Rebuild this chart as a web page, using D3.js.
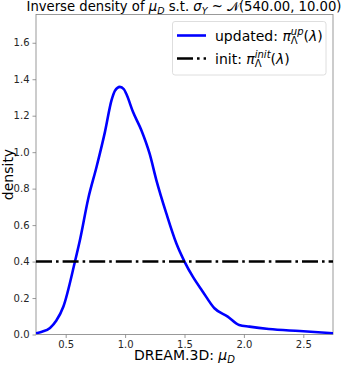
<!DOCTYPE html>
<html>
<head>
<meta charset="utf-8">
<script src="https://cdn.jsdelivr.net/npm/d3@7"></script>
<style>
  body { margin: 0; background: #fff; }
  svg { display: block; font-family: "DejaVu Sans", sans-serif; }
</style>
</head>
<body>
<svg id="chart" width="346" height="365"></svg>
<script>
// curve
var muD = [0.25, 0.30, 0.368, 0.42, 0.48, 0.578, 0.62, 0.69, 0.76, 0.83, 0.886, 0.914, 0.956, 0.99, 1.01,
           1.067, 1.137, 1.207, 1.263, 1.347, 1.431, 1.5, 1.57, 1.654, 1.752, 1.864, 1.96, 2.046, 2.21, 2.47, 2.75];
var densUp = [0.007, 0.015, 0.036, 0.075, 0.152, 0.4, 0.518, 0.746, 0.92, 1.11, 1.285, 1.336, 1.358, 1.345, 1.32,
              1.22, 1.12, 0.99, 0.847, 0.664, 0.50, 0.4, 0.317, 0.235, 0.144, 0.098, 0.052, 0.043, 0.03, 0.019, 0.007];
var initDensity = 0.4;
var xTicks = [0.5, 1.0, 1.5, 2.0, 2.5];
var yTicks = [0.0, 0.2, 0.4, 0.6, 0.8, 1.0, 1.2, 1.4, 1.6];

(function() {
  var svg = d3.select('#chart');
  var m = { left: 36, right: 333, top: 14.5, bottom: 334.5 };

  var x = d3.scaleLinear().domain([0.25, 2.75]).range([m.left, m.right]);
  var y = d3.scaleLinear().domain([0, 1.755]).range([m.bottom, m.top]);

  var grey = '#808080';

  // axes
  var xAxis = svg.append('g').attr('transform', 'translate(0,' + m.bottom + ')')
    .call(d3.axisBottom(x).tickValues(xTicks).tickFormat(d3.format('.1f')).tickSize(3.5).tickPadding(3));
  var yAxis = svg.append('g').attr('transform', 'translate(' + m.left + ',0)')
    .call(d3.axisLeft(y).tickValues(yTicks).tickFormat(d3.format('.1f')).tickSize(3.5).tickPadding(3));
  [xAxis, yAxis].forEach(function(g) {
    g.select('.domain').remove();
    g.selectAll('line').attr('stroke', grey).attr('stroke-width', 0.8);
    g.selectAll('text').attr('font-size', 10).attr('fill', '#262626')
      .attr('font-family', '"DejaVu Sans", sans-serif');
  });

  svg.append('rect').attr('x', m.left).attr('y', m.top)
    .attr('width', m.right - m.left).attr('height', m.bottom - m.top)
    .attr('fill', 'none').attr('stroke', grey).attr('stroke-width', 0.8);

  // clip for the lines
  svg.append('clipPath').attr('id', 'clip').append('rect')
    .attr('x', m.left).attr('y', m.top).attr('width', m.right - m.left).attr('height', m.bottom - m.top);

  var pts = muD.map(function(d, i) { return [d, densUp[i]]; });
  var line = d3.line().x(function(d) { return x(d[0]); }).y(function(d) { return y(d[1]); })
    .curve(d3.curveMonotoneX);

  svg.append('path').datum(pts).attr('d', line).attr('clip-path', 'url(#clip)')
    .attr('fill', 'none').attr('stroke', '#0000ff').attr('stroke-width', 2.6);

  svg.append('line').attr('clip-path', 'url(#clip)')
    .attr('x1', x(0.25)).attr('x2', x(2.75)).attr('y1', y(initDensity)).attr('y2', y(initDensity))
    .attr('stroke', '#000').attr('stroke-width', 2.6).attr('stroke-dasharray', '16,4,2.6,4');

  // math-ish text: plain strings or {t, it, sub, sup}; offsets carried to the next piece
  function rich(sel, parts, fs) {
    var dx = 0, dy = 0;
    function add(txt, opt) {
      var s = sel.append('tspan').text(txt);
      if (dx) s.attr('dx', dx);
      if (dy) s.attr('dy', dy);
      dx = 0; dy = 0;
      if (opt && opt.it) s.attr('font-style', 'italic');
      if (opt && opt.fs) s.attr('font-size', opt.fs);
      return s;
    }
    parts.forEach(function(p) {
      if (typeof p === 'string') { add(p); return; }
      add(p.t, { it: p.it });
      if (p.sub && p.sup) {
        dy = -5.5;
        var wSup = add(p.sup, { it: true, fs: fs }).node().getComputedTextLength();
        dx = -wSup; dy = 9;
        var wSub = add(p.sub, { fs: fs }).node().getComputedTextLength();
        dx = Math.max(0, wSup - wSub); dy = -3.5;
      } else if (p.sub) {
        dy = 3;
        add(p.sub, { it: true, fs: fs });
        dy = -3;
      }
    });
  }

  // title
  var title = svg.append('text').attr('x', 184).attr('y', 11).attr('text-anchor', 'middle')
    .attr('font-size', 13.2).attr('fill', '#000');
  rich(title, ['Inverse density of ', {t: '\u03bc', it: true, sub: 'D'}, ' s.t. ',
    {t: '\u03c3', it: true, sub: 'Y'}, ' ~ ', {t: '\ud835\udca9'}, '(540.00, 10.00)'], 9.5);

  // axis labels
  var xl = svg.append('text').attr('x', 184.5).attr('y', 360).attr('text-anchor', 'middle')
    .attr('font-size', 14).attr('fill', '#000');
  rich(xl, ['DREAM.3D: ', {t: '\u03bc', it: true, sub: 'D'}], 10);

  svg.append('text').attr('transform', 'translate(13,' + ((m.top + m.bottom) / 2) + ') rotate(-90)')
    .attr('text-anchor', 'middle').attr('font-size', 14).attr('fill', '#000').text('density');

  // legend
  var lg = svg.append('g');
  lg.append('rect').attr('x', 172.5).attr('y', 21.5).attr('width', 153.5).attr('height', 53.5)
    .attr('rx', 2.5).attr('fill', '#fff').attr('fill-opacity', 0.8).attr('stroke', '#d6d6d6').attr('stroke-width', 0.8);

  lg.append('line').attr('x1', 177).attr('x2', 206).attr('y1', 35.5).attr('y2', 35.5)
    .attr('stroke', '#0000ff').attr('stroke-width', 2.6);
  lg.append('line').attr('x1', 177).attr('x2', 206).attr('y1', 58.5).attr('y2', 58.5)
    .attr('stroke', '#000').attr('stroke-width', 2.6).attr('stroke-dasharray', '16,4,2.6,4');

  var t1 = lg.append('text').attr('x', 215).attr('y', 40.5).attr('font-size', 14).attr('fill', '#000');
  rich(t1, ['updated: ', {t: '\u03c0', it: true, sub: '\u039b', sup: 'up'}, '(', {t: '\u03bb', it: true}, ')'], 10);
  var t2 = lg.append('text').attr('x', 215).attr('y', 63.5).attr('font-size', 14).attr('fill', '#000');
  rich(t2, ['init: ', {t: '\u03c0', it: true, sub: '\u039b', sup: 'init'}, '(', {t: '\u03bb', it: true}, ')'], 10);
})();
</script>
</body>
</html>
